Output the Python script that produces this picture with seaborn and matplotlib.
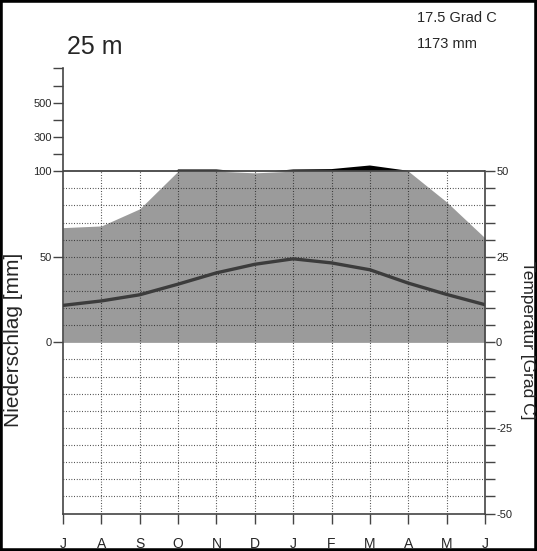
import numpy as np
import pandas as pd
import matplotlib
matplotlib.use("Agg")
import matplotlib.pyplot as plt
import seaborn as sns
from matplotlib.patches import Rectangle

# ---- data ----
months = ["J", "A", "S", "O", "N", "D", "J", "F", "M", "A", "M", "J"]
temperature = [10.8, 12.1, 13.9, 17.0, 20.3, 22.8, 24.4, 23.2, 21.2, 17.3, 14.0, 11.0]
precipitation = [67, 68, 78, 110, 110, 99, 110, 112, 133, 102, 82, 61]
left_tick_labels = ["0", "50", "100", "300", "500"]
right_tick_labels = ["-50", "-25", "0", "25", "50"]
station_height = "25 m"
mean_temp_text = "17.5 Grad C"
annual_prec_text = "1173 mm"

sns.set_style("white")
plt.rcParams["font.family"] = ["Liberation Sans", "DejaVu Sans"]

df = pd.DataFrame({"month": np.arange(len(months)), "temp": temperature, "prec": precipitation})

def prec_to_disp(p):
    p = np.asarray(p, dtype=float)
    return np.where(p <= 100, p / 2.0, 50 + (p - 100) / 20.0)

df["prec_disp"] = prec_to_disp(df["prec"])

W, H = 537, 551
fig = plt.figure(figsize=(W / 100, H / 100), dpi=100)
x0, x1 = 63, 485
ytop, ybot = 68.4, 513.6
ax = fig.add_axes([x0 / W, (H - ybot) / H, (x1 - x0) / W, (ybot - ytop) / H])
ax.set_xlim(0, len(months) - 1)
ax.set_ylim(-50, 80)

gray = "#9b9b9b"
xs = df["month"].values
pd_disp = df["prec_disp"].values
ax.fill_between(xs, 0, np.minimum(pd_disp, 50), color=gray, lw=0, zorder=1)
ax.fill_between(xs, 50, pd_disp, where=pd_disp > 50, interpolate=True, color="black", lw=0, zorder=1)

# dotted grid
dot = (0, (0.7, 1.7))
for yy in list(range(-45, 0, 5)) + list(range(5, 50, 5)):
    ax.hlines(yy, 0, len(months) - 1, colors="#222222", linestyles=dot, lw=0.8, zorder=2)
ax.vlines(xs[1:-1], -50, 50, colors="#222222", linestyles=dot, lw=0.8, zorder=2)

# solid line at 100 mm / 50 C
ax.hlines(50, 0, len(months) - 1, colors="#444444", lw=1.3, zorder=3)

sns.lineplot(data=df, x="month", y="temp", ax=ax, color="#3c3c3c", lw=2.4, zorder=4)
ax.set_xlabel("")
ax.set_ylabel("")

spc = "#444444"
for s in ["top", "right"]:
    ax.spines[s].set_visible(False)
ax.spines["left"].set_bounds(-50, 80)
ax.spines["left"].set_color(spc)
ax.spines["bottom"].set_color(spc)
ax.spines["left"].set_linewidth(1.2)
ax.spines["bottom"].set_linewidth(1.2)

ax.set_yticks([0, 25, 50, 60, 70])
ax.set_yticklabels(left_tick_labels)
ax.set_yticks([55, 65, 75, 80], minor=True)
ax.tick_params(axis="y", which="both", direction="out", length=7, width=1, color=spc,
               labelsize=8, pad=1, left=True)
ax.set_xticks(xs)
ax.set_xticklabels(months)
ax.tick_params(axis="x", direction="out", length=7, width=1, color=spc, labelsize=10, pad=10, bottom=True)

ax2 = ax.twinx()
ax2.set_ylim(-50, 80)
for s in ["top", "left", "bottom"]:
    ax2.spines[s].set_visible(False)
ax2.spines["right"].set_bounds(-50, 50)
ax2.spines["right"].set_color(spc)
ax2.spines["right"].set_linewidth(1.2)
ax2.set_yticks([-50, -25, 0, 25, 50])
ax2.set_yticklabels(right_tick_labels)
ax2.set_yticks(list(range(-45, 50, 5)), minor=True)
ax2.tick_params(axis="y", which="both", direction="out", length=7, width=1, color=spc,
                labelsize=8, pad=1, right=True)
ax2.grid(False)
ax.grid(False)

fig.text(14 / W, (H - 340) / H, "Niederschlag [mm]", rotation=90, ha="center", va="center", fontsize=15)
fig.text(527 / W, (H - 340) / H, "Temperatur [Grad C]", rotation=-90, ha="center", va="center", fontsize=12.5)
fig.text(67 / W, (H - 47) / H, station_height, ha="left", va="center", fontsize=18)
fig.text(417 / W, (H - 18) / H, mean_temp_text, ha="left", va="center", fontsize=10.5)
fig.text(417 / W, (H - 44) / H, annual_prec_text, ha="left", va="center", fontsize=10.5)

fig.patches.append(Rectangle((0, 0), 1, 1, transform=fig.transFigure, fill=False, lw=4, ec="black"))

fig.savefig("out.png", dpi=100)
